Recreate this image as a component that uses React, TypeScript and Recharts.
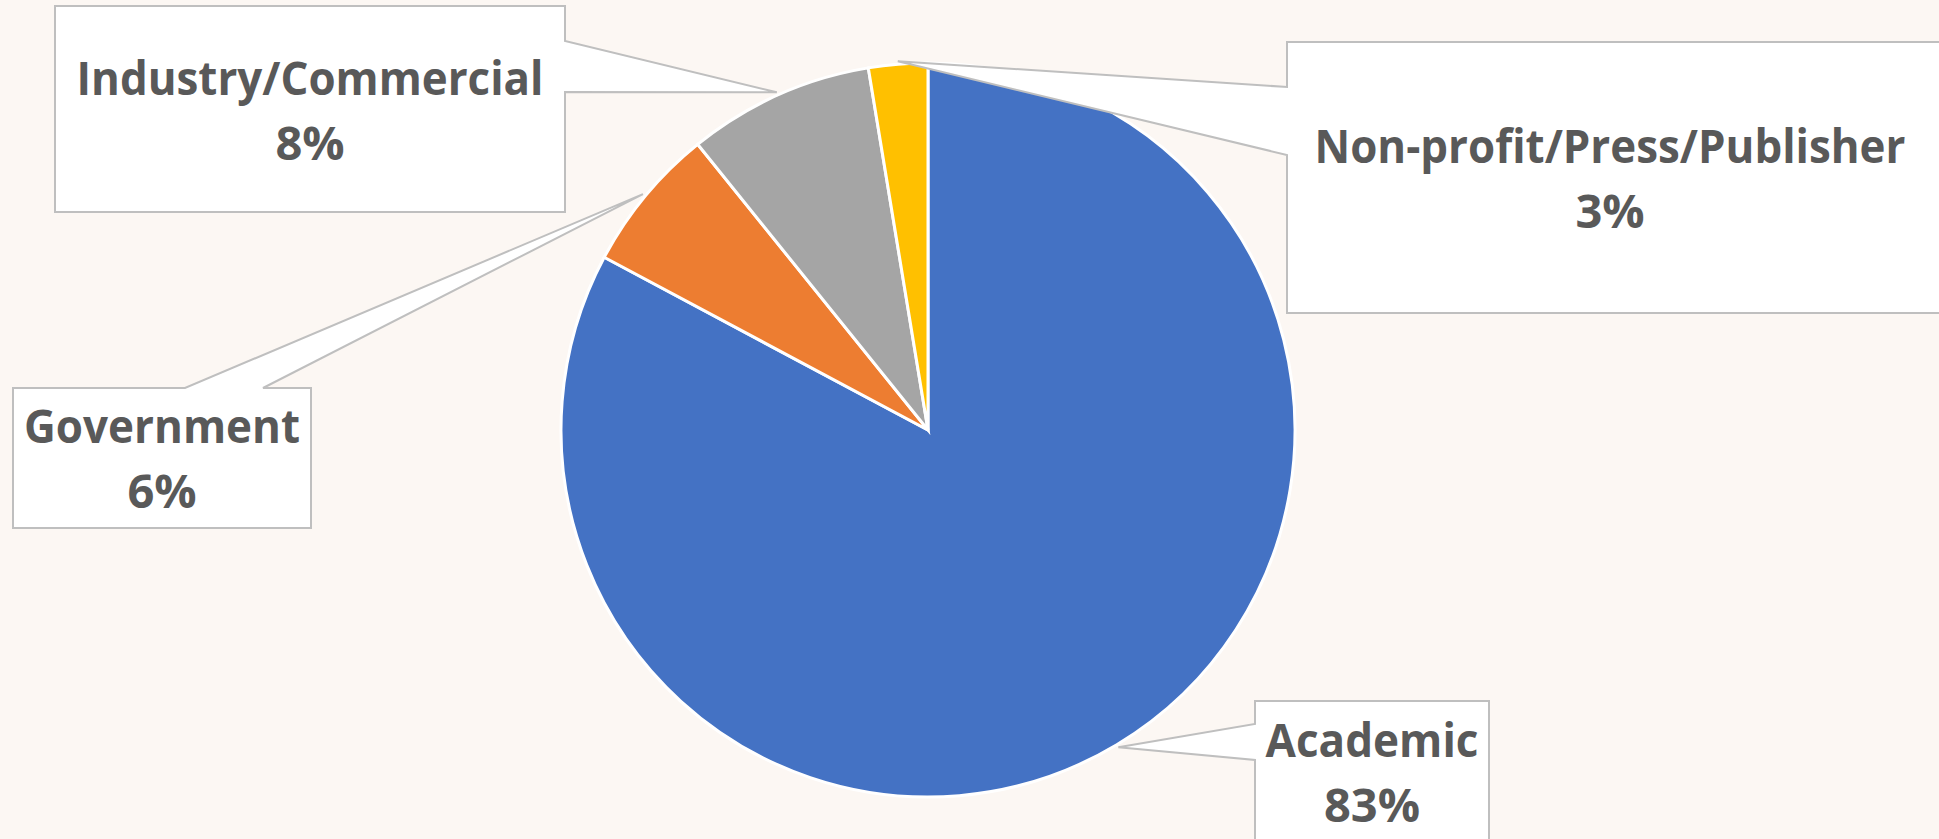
import React from 'react'
import { PieChart, Pie, Cell } from 'recharts'

const CATEGORIES = ['Academic', 'Government', 'Industry/Commercial', 'Non-profit/Press/Publisher']
const SHARES = [82.8, 6.4, 8.2, 2.6]

const COLORS = ['#4472C4', '#ED7D31', '#A5A5A5', '#FFC000']

const data = CATEGORIES.map((name, i) => ({ name, value: SHARES[i] }))

// callout boxes, placed like the excel data labels
const CALLOUTS = {
  'Academic': { box: [1255, 701, 1489, 870], side: 'left', notch: [724, 760], tx: 1372, ty: 757, tw: 213 },
  'Government': { box: [13, 388, 311, 528], side: 'top', notch: [185, 263], tx: 162, ty: 443, tw: 276 },
  'Industry/Commercial': { box: [55, 6, 565, 212], side: 'right', notch: [41, 92], tx: 310, ty: 95, tw: 467 },
  'Non-profit/Press/Publisher': { box: [1287, 42, 1950, 313], side: 'left', notch: [87, 155], tx: 1610, ty: 163, tw: 591 },
}

const RADIAN = Math.PI / 180

const calloutPath = (c, tip) => {
  const [x1, y1, x2, y2] = c.box
  const [n1, n2] = c.notch
  const [tx, ty] = tip
  if (c.side === 'right') {
    return `M${x1},${y1} H${x2} V${n1} L${tx},${ty} L${x2},${n2} V${y2} H${x1} Z`
  }
  if (c.side === 'top') {
    return `M${x1},${y1} H${n1} L${tx},${ty} L${n2},${y1} H${x2} V${y2} H${x1} Z`
  }
  return `M${x1},${y1} H${x2} V${y2} H${x1} V${n2} L${tx},${ty} L${x1},${n1} Z`
}

const renderCallout = (props) => {
  const { cx, cy, midAngle, outerRadius, name, percent } = props
  const c = CALLOUTS[name]
  if (!c) return null
  const r = outerRadius + 3
  const tip = [cx + r * Math.cos(-midAngle * RADIAN), cy + r * Math.sin(-midAngle * RADIAN)]
  return (
    <g>
      <path d={calloutPath(c, tip)} fill="#ffffff" stroke="#BFBFBF" strokeWidth={2} />
      <text
        x={c.tx}
        y={c.ty}
        textAnchor="middle"
        fill="#595959"
        fontFamily="'Open Sans', sans-serif"
        fontWeight={700}
        fontSize={47}
        textLength={c.tw}
        lengthAdjust="spacingAndGlyphs"
      >
        {name}
      </text>
      <text
        x={c.tx}
        y={c.ty + 65}
        textAnchor="middle"
        fill="#595959"
        fontFamily="'Open Sans', sans-serif"
        fontWeight={700}
        fontSize={47}
      >
        {`${Math.round(percent * 100)}%`}
      </text>
    </g>
  )
}

export default function App() {
  return (
    <div style={{ position: 'fixed', left: 0, top: 0, width: 1939, height: 839, background: '#FCF7F3', overflow: 'hidden' }}>
      <PieChart width={1939} height={839} margin={{ top: 0, right: 0, bottom: 0, left: 0 }}>
        <Pie
          data={data}
          dataKey="value"
          nameKey="name"
          cx={928}
          cy={430}
          outerRadius={367}
          startAngle={90}
          endAngle={-270}
          stroke="#ffffff"
          strokeWidth={3}
          label={renderCallout}
          labelLine={false}
          isAnimationActive={false}
        >
          {data.map((entry, index) => (
            <Cell key={`cell-${index}`} fill={COLORS[index]} />
          ))}
        </Pie>
      </PieChart>
    </div>
  )
}
